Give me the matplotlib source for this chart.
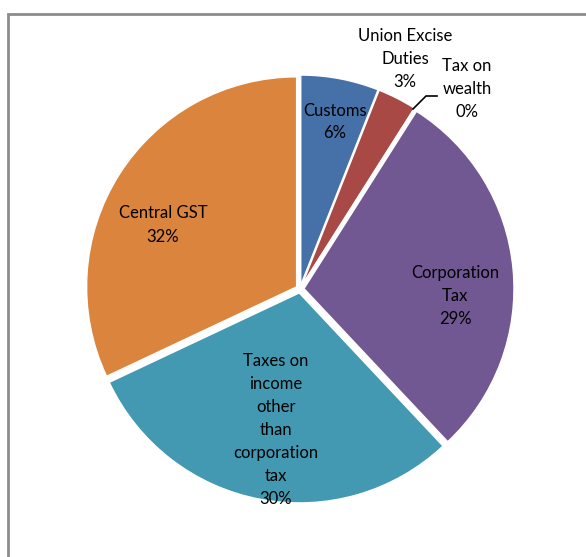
import matplotlib.pyplot as plt
from matplotlib.patches import Rectangle

# Share of gross tax revenue by head
heads = ['Customs', 'Union Excise\nDuties', 'Tax on\nwealth', 'Corporation\nTax',
         'Taxes on\nincome\nother\nthan\ncorporation\ntax', 'Central GST']
shares = [6, 3, 0, 29, 30, 32]
colors = ['#4571A8', '#A84946', '#89A54E', '#715892', '#4299B1', '#DB843D']

# label anchor points (pixels from top-left)
label_xy = [(335, 122), (405, 59), (467, 89), (455, 296), (276, 430), (163, 225)]

W, H = 586, 557
CX, CY, R = 300, 289, 210
LINE = 23  # px between label lines

plt.rcParams['font.family'] = ['Lato', 'DejaVu Sans']

fig = plt.figure(figsize=(W / 100, H / 100), dpi=100)
ax = fig.add_axes([0, 0, 1, 1])

# explode is in data units here (pixels), not a fraction of the radius
ax.pie(shares, colors=colors, startangle=90, counterclock=False,
       center=(CX, H - CY), radius=R, explode=[4] * len(shares),
       wedgeprops=dict(edgecolor='white', linewidth=1.0))

for name, val, (x, y) in zip(heads, shares, label_xy):
    lines = f'{name}\n{val}%'.split('\n')
    top = y - LINE * (len(lines) - 1) / 2
    for i, s in enumerate(lines):
        ax.text(x, H - (top + i * LINE), s, ha='center', va='center',
                fontsize=12, color='black')

# leader line for the tiny wealth slice
ax.plot([413, 426, 437], [H - 109, H - 96, H - 96], color='black', lw=1.2)

# chart frame, cut by the image edge on the right and bottom
ax.add_patch(Rectangle((7.5, -10), W + 10, H - 13.5 + 10, fill=False,
                       edgecolor='#8c8c8c', lw=2, clip_on=False))

ax.set_xlim(0, W)
ax.set_ylim(0, H)
ax.set_aspect('auto')
ax.axis('off')

fig.savefig('out.png', dpi=100)
